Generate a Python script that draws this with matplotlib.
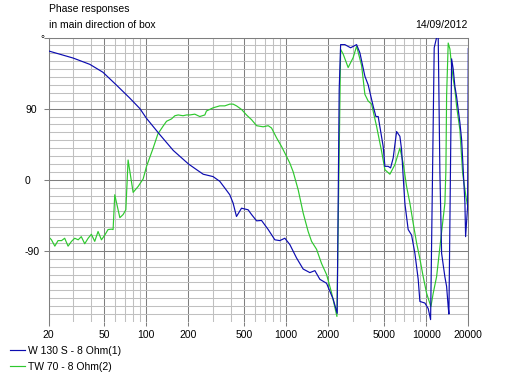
import matplotlib
matplotlib.use("Agg")
import matplotlib.pyplot as plt
from matplotlib.ticker import FixedLocator, NullFormatter

plt.rcParams['font.family'] = ['Liberation Sans', 'DejaVu Sans']
plt.rcParams['font.size'] = 7.5

# ---- data (frequency in Hz, phase in degrees) ----
w130_freq = [20, 30, 39.5, 49, 61, 76, 90, 100, 125, 156, 200, 229, 255, 300, 335, 364,
             395, 417, 441, 479, 534, 565, 614, 666, 743, 829, 900, 977, 1061, 1185,
             1321, 1475, 1602, 1739, 1942, 2026, 2164, 2312, 2390, 2447, 2624, 2883,
             3182, 3360, 3648, 3851, 4182, 4372, 4540, 4930, 5070, 5352, 5568, 5810,
             6146, 6488, 6672, 6850, 7044, 7436, 7864, 8304, 8770, 9016, 9790, 10336,
             10754, 11412, 11872, 12190, 12530, 12890, 13608, 13996, 14370, 14536,
             14950, 15196, 15602, 16044, 16500, 17420, 17912, 18388, 18912, 19130,
             19770, 20000]
w130_phase = [163, 154, 146, 136, 120, 103.5, 90, 78, 57, 37, 20, 12.7, 7, 4, -2, -10.5,
              -19, -29.5, -46.5, -36, -38, -44, -52, -51.5, -63, -76, -77, -74, -82, -99,
              -113, -117.5, -115, -126, -131, -139, -151, -169, 114, 171, 171, 167,
              171, 160.6, 131, 120, 93, 80, 80, 42, 17, 17, 15, 27.5,
              61, 55, 38, 4, -30, -63, -70, -93, -126, -154, -156, -163,
              -177, 167, 180, 180, 10, -93, -123, -135, -161, -170,
              30, 153, 140, 118, 105, 72, 51, 13, -29, -72,
              -34, 166]

tw70_freq = [20, 21, 22.2, 23.4, 24.8, 26.1, 27.6, 29.2, 30.8, 32.6, 34.3, 36.3, 38.4,
             40.5, 42.8, 45.2, 47.8, 50.5, 53.3, 56.3, 57.9, 59.5, 64.7, 68.3, 71.4,
             74.1, 80.5, 87.4, 94.9, 100.4, 111.9, 121, 132, 139.5, 151.4, 160, 169,
             183, 194, 205, 222, 241, 262, 269, 300, 335, 364, 395, 417, 441, 479, 520,
             565, 614, 684, 743, 785, 853, 926, 1005, 1061, 1121, 1217, 1321, 1434,
             1517, 1647, 1788, 1942, 2108, 2302, 2447, 2552, 2770, 3008, 3182, 3456,
             3648, 3851, 4072, 4422, 4802, 5070, 5504, 5974, 6488, 6850, 7244, 7648,
             8076, 8542, 9016, 9520, 10068, 10808, 11226, 11872, 12270, 13104, 13608,
             13836, 13996, 14370, 14776, 15196, 15602, 16044, 16500, 17420, 18210,
             19228, 20000]
tw70_phase = [-72, -76, -84, -77, -77, -74, -84, -78, -74, -76, -72, -81, -74,
              -69, -78, -65.5, -76, -70, -63, -62.5, -63, -19, -48, -44, -38,
              25, -16, -8.5, 1, 17, 40, 58, 68, 74, 77, 81, 82,
              81, 82, 82, 83, 80, 82, 87, 91, 93.5, 93.5, 95.7, 95.7, 93.5, 89, 82,
              76, 68.4, 67, 68.4, 65.5, 53, 42, 29.5, 21, 10, -12.7, -42, -65.5,
              -78, -88, -106, -120, -143, -173, 165, 159, 142, 154.6, 169, 144.5,
              108, 99.6, 95.7, 67.5, 36, 12.7, 7, 19, 40, 21, -8.5, -29.5,
              -55, -80, -100, -122.6, -143.6, -160.6, -143.6, -122.6, -100, -55, -29.5,
              13, 106.5, 173, 165.5, 144, 127.6, 114, 93, 63, 8.5,
              -21, -38]

series_labels = ["W 130 S - 8 Ohm(1)", "TW 70 - 8 Ohm(2)"]
x_major = [20, 50, 100, 200, 500, 1000, 2000, 5000, 10000, 20000]
x_major_labels = ["20", "50", "100", "200", "500", "1000", "2000", "5000", "10000", "20000"]
x_minor = [30, 40, 60, 70, 80, 90, 300, 400, 600, 700, 800, 900,
           3000, 4000, 6000, 7000, 8000, 9000]
y_major = [-90, 0, 90, 180]
y_major_labels = ["-90", "0", "90", ""]
y_minor = [v for v in range(-170, 180, 10) if v % 90 != 0]

BLUE = '#0c0cb0'
GREEN = '#2ec82e'
MAJ = '#7f7f7f'
MIN = '#c0c0c0'

fig = plt.figure(figsize=(5.12, 3.78), dpi=100)
ax = fig.add_axes([48.5 / 512, 1 - 322 / 378, (468.3 - 48.5) / 512, (322 - 37.5) / 378])

ax.set_xscale('log')
ax.set_xlim(20, 20000)
ax.set_ylim(-180, 180)

ax.xaxis.set_major_locator(FixedLocator(x_major))
ax.xaxis.set_minor_locator(FixedLocator(x_minor))
ax.set_xticklabels(x_major_labels)
ax.xaxis.set_minor_formatter(NullFormatter())
ax.yaxis.set_major_locator(FixedLocator(y_major))
ax.yaxis.set_minor_locator(FixedLocator(y_minor))
ax.set_yticklabels(y_major_labels)

ax.grid(True, which='major', color=MAJ, lw=0.75)
ax.grid(True, which='minor', color=MIN, lw=0.75)
ax.set_axisbelow(True)

ax.tick_params(axis='x', which='major', direction='out', length=3, width=0.75,
               color=MAJ, pad=2.5, labelsize=7.5)
ax.tick_params(axis='x', which='minor', length=0)
ax.tick_params(axis='y', which='major', direction='out', length=3.6, width=0.75,
               color=MAJ, pad=13.3, labelsize=7.5)
ax.tick_params(axis='y', which='minor', length=0)
for lbl in ax.get_yticklabels():
    lbl.set_horizontalalignment('left')

for side in ['left', 'right', 'top']:
    ax.spines[side].set_color(MAJ)
    ax.spines[side].set_linewidth(0.75)
ax.spines['bottom'].set_visible(False)

l1, = ax.plot(w130_freq, w130_phase, color=BLUE, lw=0.85, label=series_labels[0])
l2, = ax.plot(tw70_freq, tw70_phase, color=GREEN, lw=0.85, label=series_labels[1])
l1.set_zorder(3)
l2.set_zorder(2)

fig.text(49 / 512, 1 - 9 / 378, "Phase responses", ha='left', va='center', fontsize=7.5)
fig.text(49 / 512, 1 - 25.5 / 378, "in main direction of box", ha='left', va='center', fontsize=7.5)
fig.text(467.7 / 512, 1 - 25 / 378, "14/09/2012", ha='right', va='center', fontsize=7.5)
fig.text(40.5 / 512, 1 - 39 / 378, "°", ha='left', va='center', fontsize=7)

fig.legend(handles=[l1, l2], labels=series_labels, loc='upper left',
           bbox_to_anchor=(10 / 512, 1 - 346 / 378), frameon=False, borderpad=0,
           borderaxespad=0, handlelength=1.45, handletextpad=0.3, labelspacing=0.55,
           fontsize=7.5)

fig.savefig("out.png", dpi=100)
